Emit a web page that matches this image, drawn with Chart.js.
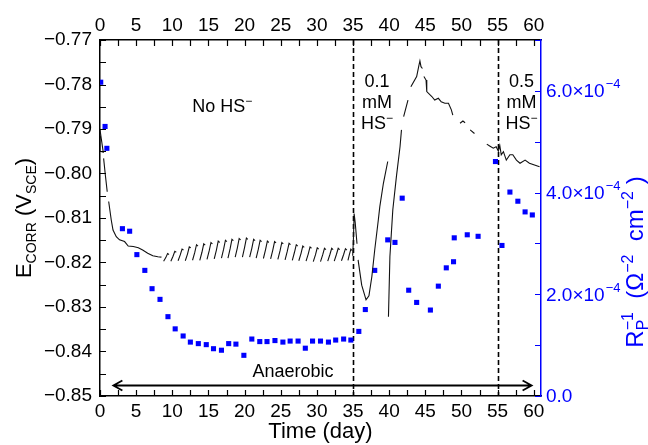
<!DOCTYPE html>
<html>
<head>
<meta charset="utf-8">
<script src="https://cdn.jsdelivr.net/npm/chart.js@4"></script>
<style>
    html, body { margin: 0; padding: 0; background: #fff; }
    #wrap { width: 648px; height: 445px; }
</style>
</head>
<body>
<div id="wrap"><canvas id="chart" width="648" height="445"></canvas></div>
<script>
// E_CORR trace (V vs SCE), null = break in the record
const ecorrTime = [
    0.0, 0.45, 0.05, 0.0, null,
    0.5, 0.75, 1.0, null,
    1.2, 1.55, 1.8, 2.25, 2.7, 3.4, 3.9, 4.6, 5.3, 5.9, 6.6, 7.3, 8.0, 8.5, null,
    8.8, 9.1, 9.35, 9.55, null,
    9.8, 10.1, 10.35, 10.55, null,
    10.8, 11.1, 11.35, 11.55, null,
    11.8, 12.1, 12.35, 12.55, null,
    12.8, 13.1, 13.35, 13.55, null,
    13.8, 14.1, 14.35, 14.55, null,
    14.8, 15.1, 15.35, 15.55, null,
    15.8, 16.1, 16.35, 16.55, null,
    16.8, 17.1, 17.35, 17.55, null,
    17.7, 18.0, 18.25, 18.45, null,
    18.7, 19.0, 19.25, 19.45, null,
    19.7, 20.0, 20.25, 20.45, null,
    20.7, 21.0, 21.25, 21.45, null,
    21.6, 21.9, 22.15, 22.35, null,
    22.6, 22.9, 23.15, 23.35, null,
    23.6, 23.9, 24.15, 24.35, null,
    24.6, 24.9, 25.15, 25.35, null,
    25.6, 25.9, 26.15, 26.35, null,
    26.6, 26.9, 27.15, 27.35, null,
    27.5, 27.8, 28.05, 28.25, null,
    28.5, 28.8, 29.05, 29.25, null,
    29.5, 29.8, 30.05, 30.25, null,
    30.5, 30.8, 31.05, 31.25, null,
    31.5, 31.8, 32.05, 32.25, null,
    32.4, 32.7, 32.95, 33.15, null,
    33.4, 33.7, 33.95, 34.15, null,
    34.3, 34.5, 34.7, 34.85, null,
    34.95, 35.05, 35.15, 35.3, 35.55, null,
    35.7, 36.2, 36.8, 37.2, 37.6, 38.0, 38.5, 38.7, 39.2, 39.8, null,
    39.9, 40.1, 40.5, 41.0, 41.5, 41.7, null,
    42.0, 42.6, null,
    43.0, 43.8, 44.1, 44.25, 44.4, 44.6, null,
    44.8, 45.1, 45.2, 45.9, 46.3, 46.8, 47.2, 47.7, 48.2, 48.6, 48.8, null,
    49.8, 50.2, 50.5, null,
    51.2, 51.8, null,
    53.5, 53.9, 54.4, 54.8, 55.1, 55.3, 55.5, 55.8, 56.2, 56.7, 57.1, 57.6, 58.1, 58.8, 59.4, 60.1, 60.8
];
const ecorr = [
    -0.7902, -0.7952, -0.7950, -0.7915, null,
    -0.7966, -0.8005, -0.8041, null,
    -0.8063, -0.8104, -0.8127, -0.8142, -0.8149, -0.8153, -0.8163, -0.8164, -0.8167, -0.8172, -0.8179, -0.8185, -0.8187, -0.8188, null,
    -0.8197, -0.8189, -0.8180, -0.8182, null,
    -0.8197, -0.8186, -0.8175, -0.8177, null,
    -0.8196, -0.8183, -0.8170, -0.8172, null,
    -0.8196, -0.8181, -0.8165, -0.8167, null,
    -0.8195, -0.8178, -0.8160, -0.8163, null,
    -0.8195, -0.8177, -0.8158, -0.8161, null,
    -0.8193, -0.8174, -0.8155, -0.8158, null,
    -0.8192, -0.8172, -0.8152, -0.8155, null,
    -0.8190, -0.8170, -0.8150, -0.8153, null,
    -0.8190, -0.8169, -0.8148, -0.8151, null,
    -0.8188, -0.8167, -0.8146, -0.8149, null,
    -0.8188, -0.8166, -0.8145, -0.8148, null,
    -0.8188, -0.8168, -0.8148, -0.8151, null,
    -0.8190, -0.8170, -0.8150, -0.8153, null,
    -0.8191, -0.8171, -0.8152, -0.8155, null,
    -0.8192, -0.8172, -0.8153, -0.8156, null,
    -0.8193, -0.8174, -0.8155, -0.8158, null,
    -0.8194, -0.8175, -0.8157, -0.8160, null,
    -0.8195, -0.8177, -0.8160, -0.8163, null,
    -0.8196, -0.8180, -0.8163, -0.8166, null,
    -0.8197, -0.8181, -0.8165, -0.8168, null,
    -0.8198, -0.8183, -0.8167, -0.8170, null,
    -0.8198, -0.8183, -0.8168, -0.8171, null,
    -0.8197, -0.8182, -0.8168, -0.8171, null,
    -0.8197, -0.8182, -0.8168, -0.8171, null,
    -0.8196, -0.8182, -0.8169, -0.8172, null,
    -0.8195, -0.8182, -0.8170, -0.8173, null,
    -0.8185, -0.8150, -0.8090, -0.8110, -0.8158, null,
    -0.8194, -0.8251, -0.8284, -0.8275, -0.8232, -0.8172, -0.8104, -0.8075, -0.8022, -0.7973, null,
    -0.8322, -0.8187, -0.8082, -0.8007, -0.7940, -0.7902, null,
    -0.7872, -0.7835, null,
    -0.7805, -0.7782, -0.7758, -0.7747, -0.7760, -0.7764, null,
    -0.7782, -0.7790, -0.7816, -0.7827, -0.7835, -0.7831, -0.7839, -0.7842, -0.7842, -0.7857, -0.7869, null,
    -0.7887, -0.7882, -0.7886, null,
    -0.7902, -0.7910, null,
    -0.7934, -0.7938, -0.7943, -0.7940, -0.7950, -0.7937, -0.7958, -0.7951, -0.7970, -0.7958, -0.7958, -0.7970, -0.7977, -0.7970, -0.7977, -0.7981, -0.7985
];

// Rp^-1 (ohm^-2 cm^-2)
const rpDays = [
    0.1, 0.7, 0.95, 3.1, 4.1, 5.1, 6.2, 7.2, 8.3, 9.4, 10.4,
    11.5, 12.5, 13.6, 14.7, 15.7, 16.8, 17.8, 18.8, 19.9,
    21.0, 22.1, 23.1, 24.2, 25.3, 26.3, 27.4, 28.4, 29.4,
    30.5, 31.6, 32.6, 33.7, 34.7, 35.8,
    36.7, 38.0, 39.8, 40.8, 41.8, 42.7, 43.8,
    45.7, 46.8, 47.9, 48.9, 49.0, 50.8, 52.3,
    54.7, 55.6, 56.7, 57.8, 58.8, 59.8
];
const rpInv = [
    6.17e-4, 5.30e-4, 4.87e-4, 3.29e-4, 3.24e-4, 2.78e-4, 2.47e-4, 2.11e-4, 1.90e-4, 1.56e-4, 1.32e-4,
    1.18e-4, 1.06e-4, 1.03e-4, 1.01e-4, 0.93e-4, 0.90e-4, 1.03e-4, 1.02e-4, 0.80e-4,
    1.12e-4, 1.07e-4, 1.07e-4, 1.09e-4, 1.06e-4, 1.08e-4, 1.08e-4, 0.94e-4, 1.08e-4,
    1.08e-4, 1.06e-4, 1.10e-4, 1.12e-4, 1.10e-4, 1.27e-4,
    1.70e-4, 2.47e-4, 3.07e-4, 3.02e-4, 3.89e-4, 2.08e-4, 1.84e-4,
    1.69e-4, 2.16e-4, 2.52e-4, 2.64e-4, 3.11e-4, 3.17e-4, 3.14e-4,
    4.61e-4, 2.96e-4, 4.01e-4, 3.83e-4, 3.62e-4, 3.56e-4
];

// HS- additions and the anaerobic period
const phaseDays = [35, 55];
const anaerobicSpan = [1.85, 59.7];
const anaerobicLevel = -0.8475;

const FONT = "'Liberation Sans', Arial, Helvetica, sans-serif";
const BLUE = '#0000ff';

// annotation texts, anchored in data units (day, V)
const notes = [
    { lines: ['No HS'], x: 16.9, y: -0.7848 },
    { lines: ['0.1', 'mM', 'HS'], x: 38.3, y: -0.7792 },
    { lines: ['0.5', 'mM', 'HS'], x: 58.3, y: -0.7792 }
];

function buildLine() {
    const pts = [];
    for (let i = 0; i < ecorr.length; i++) {
        const t = ecorrTime[i] !== null ? ecorrTime[i] : ecorrTime[i - 1];
        pts.push({ x: t, y: ecorr[i] });
    }
    return pts;
}

function buildPoints() {
    return rpDays.map((d, i) => ({ x: d, y: rpInv[i] }));
}

// draw text pieces with sub/superscripts, centred on (cx, cy)
function drawRich(ctx, parts, cx, cy, angle, color, baseSize) {
    ctx.save();
    ctx.translate(cx, cy);
    ctx.rotate(angle);
    ctx.fillStyle = color;
    ctx.textAlign = 'left';
    ctx.textBaseline = 'alphabetic';
    let total = 0;
    const adv = parts.map(p => {
        ctx.font = p.size + 'px ' + FONT;
        const w = ctx.measureText(p.text).width;
        return p.stack ? 0 : w;
    });
    // stacked parts: advance by the wider of the pair
    parts.forEach((p, i) => {
        if (p.stack && parts[i + 1]) {
            ctx.font = p.size + 'px ' + FONT;
            const w1 = ctx.measureText(p.text).width;
            ctx.font = parts[i + 1].size + 'px ' + FONT;
            const w2 = ctx.measureText(parts[i + 1].text).width;
            adv[i + 1] = Math.max(w1, w2);
        }
    });
    adv.forEach(a => total += a);
    let x = -total / 2;
    const base = baseSize * 0.36;
    parts.forEach((p, i) => {
        ctx.font = p.size + 'px ' + FONT;
        ctx.fillText(p.text, x, base + (p.dy || 0));
        x += adv[i];
    });
    ctx.restore();
}

const phasePlugin = {
    id: 'phases',
    beforeDatasetsDraw(chart) {
        const ctx = chart.ctx;
        const area = chart.chartArea;
        const xs = chart.scales.x;
        ctx.save();
        ctx.strokeStyle = '#000';
        ctx.lineWidth = 1.6;
        ctx.setLineDash([5, 3]);
        phaseDays.forEach(d => {
            const px = Math.round(xs.getPixelForValue(d)) + 0.5;
            ctx.beginPath();
            ctx.moveTo(px, area.top);
            ctx.lineTo(px, area.bottom);
            ctx.stroke();
        });
        ctx.restore();
    }
};

const overlayPlugin = {
    id: 'overlay',
    afterDraw(chart) {
        const ctx = chart.ctx;
        const area = chart.chartArea;
        const xs = chart.scales.x;
        const ys = chart.scales.y;
        const y2s = chart.scales.y2;
        ctx.save();

        // inward tick marks
        ctx.lineWidth = 1.2;
        ctx.strokeStyle = '#000';
        ctx.beginPath();
        for (let i = 0; i <= 24; i++) {
            const px = Math.round(xs.getPixelForValue(i * 2.5)) + 0.5;
            ctx.moveTo(px, area.bottom);
            ctx.lineTo(px, area.bottom - 6);
            ctx.moveTo(px, area.top);
            ctx.lineTo(px, area.top + 6);
        }
        for (let i = 0; i <= 16; i++) {
            const py = Math.round(ys.getPixelForValue(-0.85 + i * 0.005)) + 0.5;
            ctx.moveTo(area.left, py);
            ctx.lineTo(area.left + 6, py);
        }
        ctx.stroke();
        ctx.strokeStyle = BLUE;
        ctx.beginPath();
        for (let i = 0; i <= 7; i++) {
            const py = Math.round(y2s.getPixelForValue(i * 1e-4)) + 0.5;
            ctx.moveTo(area.right, py);
            ctx.lineTo(area.right - 6, py);
        }
        ctx.stroke();

        // right tick labels with exponent
        ctx.fillStyle = BLUE;
        ctx.textBaseline = 'middle';
        ctx.textAlign = 'left';
        y2s.ticks.forEach(t => {
            const py = y2s.getPixelForValue(t.value);
            const m = (t.value / 1e-4).toFixed(1);
            ctx.font = '19px ' + FONT;
            if (Math.abs(t.value) < 1e-12) {
                ctx.fillText('0.0', area.right + 5, py + 1);
                return;
            }
            const main = m + '\u00d710';
            ctx.fillText(main, area.right + 5, py + 1);
            const w = ctx.measureText(main).width;
            ctx.font = '13px ' + FONT;
            ctx.fillText('\u22124', area.right + 5 + w + 1, py - 6);
        });

        // anaerobic arrow
        const ay = Math.round(ys.getPixelForValue(anaerobicLevel)) + 0.5;
        const ax1 = xs.getPixelForValue(anaerobicSpan[0]);
        const ax2 = xs.getPixelForValue(anaerobicSpan[1]);
        ctx.strokeStyle = '#000';
        ctx.lineWidth = 1.8;
        ctx.beginPath();
        ctx.moveTo(ax1, ay);
        ctx.lineTo(ax2, ay);
        ctx.moveTo(ax1 + 9, ay - 5);
        ctx.lineTo(ax1, ay);
        ctx.lineTo(ax1 + 9, ay + 5);
        ctx.moveTo(ax2 - 9, ay - 5);
        ctx.lineTo(ax2, ay);
        ctx.lineTo(ax2 - 9, ay + 5);
        ctx.stroke();

        ctx.fillStyle = '#000';
        ctx.font = '18px ' + FONT;
        ctx.textAlign = 'center';
        ctx.textBaseline = 'middle';
        ctx.fillText('Anaerobic', xs.getPixelForValue(26.7), ys.getPixelForValue(-0.8447));

        // HS- annotations
        notes.forEach(n => {
            const cx = xs.getPixelForValue(n.x);
            let cy = ys.getPixelForValue(n.y);
            n.lines.forEach(line => {
                if (line.indexOf('HS') === 0 || line.indexOf('No') === 0) {
                    drawRich(ctx, [
                        { text: line, size: 18 },
                        { text: '\u2212', size: 12, dy: -7 }
                    ], cx, cy, 0, '#000', 18);
                } else {
                    drawRich(ctx, [{ text: line, size: 18 }], cx, cy, 0, '#000', 18);
                }
                cy += 21;
            });
        });

        // axis titles
        drawRich(ctx, [
            { text: 'E', size: 22 },
            { text: 'CORR', size: 14, dy: 5 },
            { text: ' (V', size: 22 },
            { text: 'SCE', size: 14, dy: 5 },
            { text: ')', size: 22 }
        ], 23, (area.top + area.bottom) / 2, -Math.PI / 2, '#000', 22);

        drawRich(ctx, [
            { text: 'R', size: 24 },
            { text: 'P', size: 16, dy: 5, stack: true },
            { text: '\u22121', size: 16, dy: -10 },
            { text: '  (\u03a9', size: 24 },
            { text: '\u22122', size: 16, dy: -10 },
            { text: '  cm', size: 24 },
            { text: '\u22122', size: 16, dy: -10 },
            { text: ' )', size: 24 }
        ], 634, 262, -Math.PI / 2, BLUE, 24);

        ctx.fillStyle = '#000';
        ctx.font = '22px ' + FONT;
        ctx.textAlign = 'center';
        ctx.textBaseline = 'middle';
        ctx.fillText('Time (day)', (area.left + area.right) / 2, 432);

        ctx.restore();
    }
};

const tickFont = { family: FONT, size: 19 };

new Chart(document.getElementById('chart').getContext('2d'), {
    type: 'scatter',
    data: {
        datasets: [
            {
                label: 'Ecorr',
                data: buildLine(),
                showLine: true,
                spanGaps: false,
                borderColor: '#111',
                borderWidth: 1.1,
                pointRadius: 0,
                tension: 0,
                xAxisID: 'x',
                yAxisID: 'y'
            },
            {
                label: 'Rp-1',
                data: buildPoints(),
                showLine: false,
                pointStyle: 'rect',
                pointRadius: 3.6,
                backgroundColor: BLUE,
                borderWidth: 0,
                xAxisID: 'x',
                yAxisID: 'y2'
            }
        ]
    },
    options: {
        responsive: false,
        animation: false,
        devicePixelRatio: 1,
        layout: { padding: 0 },
        plugins: {
            legend: { display: false },
            tooltip: { enabled: false }
        },
        scales: {
            x: {
                type: 'linear',
                position: 'bottom',
                min: 0,
                max: 61,
                grid: { display: false, drawTicks: false },
                border: { display: true, color: '#000', width: 1.5 },
                ticks: {
                    stepSize: 5,
                    includeBounds: false,
                    autoSkip: false,
                    maxRotation: 0,
                    padding: 4,
                    color: '#000',
                    font: tickFont
                },
                afterFit: s => { s.height = 49; }
            },
            x2: {
                type: 'linear',
                position: 'top',
                min: 0,
                max: 61,
                grid: { display: false, drawTicks: false },
                border: { display: true, color: '#000', width: 1.5 },
                ticks: {
                    stepSize: 5,
                    includeBounds: false,
                    autoSkip: false,
                    maxRotation: 0,
                    padding: 3,
                    color: '#000',
                    font: tickFont
                },
                afterFit: s => { s.height = 40; }
            },
            y: {
                type: 'linear',
                position: 'left',
                min: -0.85,
                max: -0.77,
                grid: { display: false, drawTicks: false },
                border: { display: true, color: '#000', width: 1.5 },
                ticks: {
                    stepSize: 0.01,
                    padding: 8,
                    color: '#000',
                    font: tickFont,
                    callback: v => (v < 0 ? '\u2212' : '') + Math.abs(v).toFixed(2)
                },
                afterFit: s => { s.width = 100; }
            },
            y2: {
                type: 'linear',
                position: 'right',
                min: 0,
                max: 7e-4,
                grid: { display: false, drawTicks: false },
                border: { display: true, color: BLUE, width: 1.5 },
                ticks: {
                    stepSize: 2e-4,
                    includeBounds: false,
                    display: false
                },
                afterFit: s => { s.width = 107; }
            }
        }
    },
    plugins: [phasePlugin, overlayPlugin]
});
</script>
</body>
</html>
